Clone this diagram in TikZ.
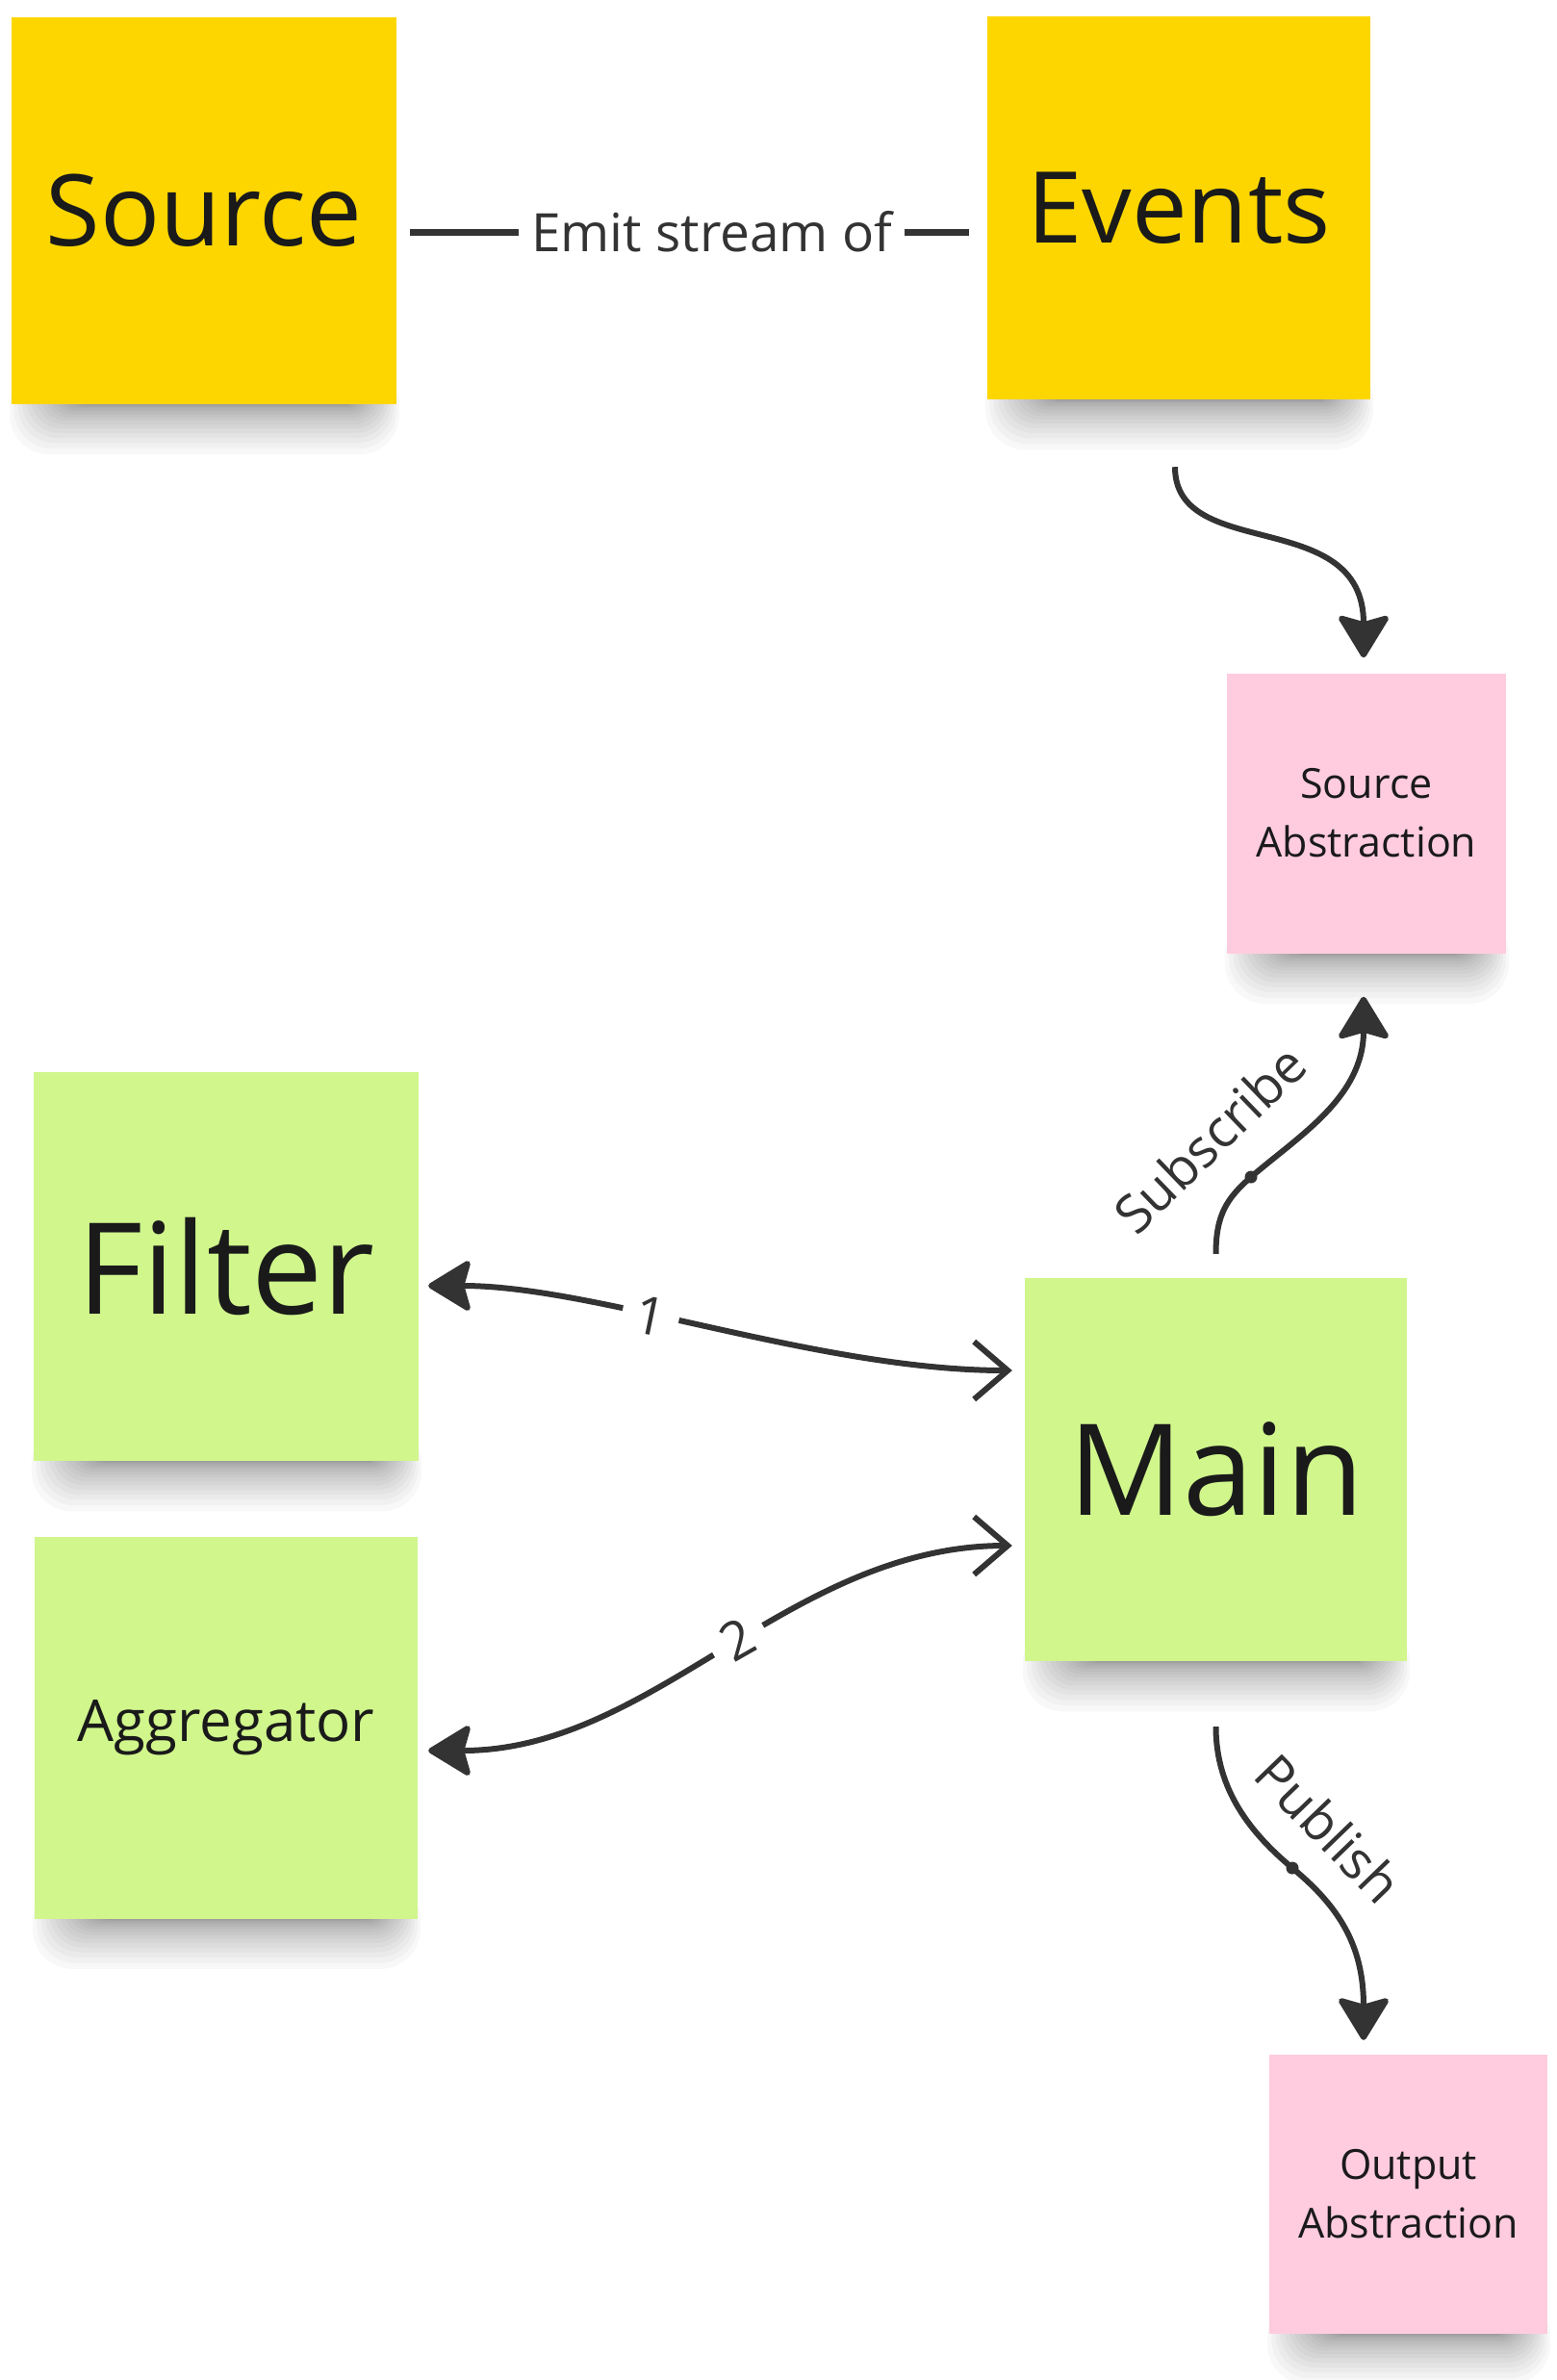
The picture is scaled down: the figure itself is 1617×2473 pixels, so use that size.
\documentclass[tikz,border=0pt]{standalone}
\usepackage{fontspec}
\setmainfont{Open Sans}
\usetikzlibrary{arrows.meta}
\pgfdeclarelayer{bg}
\pgfsetlayers{bg,main}
\definecolor{ynote}{HTML}{FDD600}
\definecolor{gnote}{HTML}{D0F68C}
\definecolor{pnote}{HTML}{FFCCDF}
\definecolor{linec}{HTML}{333333}
\definecolor{notetext}{HTML}{1A1A1A}
\newcommand\notesh[1]{%
  \foreach \k in {1,...,16}{%
    \pgfmathsetmacro\xa{70-4.5*\k}%
    \pgfmathsetmacro\xb{-45+3*\k}%
    \pgfmathsetmacro\yb{-(1+0.2*\k*\k)}%
    \pgfmathsetmacro\rc{10+2*\k}%
    \fill[black,opacity=0.026,rounded corners=\rc pt]
      ([xshift=\xa pt,yshift=40pt]#1.south west) rectangle ([xshift=\xb pt,yshift=\yb pt]#1.south east);
  }}
\begin{document}
\begin{tikzpicture}[x=1pt,y=-1pt,
  note/.style={inner sep=0pt, align=center, text=notetext},
  bignote/.style={note, minimum width=400pt, minimum height=400pt},
  smallnote/.style={note, fill=pnote, minimum width=290pt, minimum height=291pt, font=\fontsize{43}{61}\selectfont},
  conn/.style={draw=linec, line width=6pt},
  lbl/.style={text=linec, font=\fontsize{55}{66}\selectfont},
  fulltip/.style={-{Stealth[length=48pt,width=58pt,inset=8pt,round]}},
  bothtip/.style={{Stealth[length=48pt,width=58pt,inset=8pt,round]}-{Straight Barb[length=35pt,width=60pt]}},
  dotmark/.style={fill=linec}
]
\useasboundingbox (0,0) rectangle (1617,2473);

% notes
\node[bignote, fill=ynote, minimum height=402pt, font=\fontsize{103}{120}\selectfont] (src) at (212,219) {Source};
\node[bignote, fill=ynote, minimum width=398pt, minimum height=398pt, font=\fontsize{103}{120}\selectfont] (ev) at (1225,216) {Events};
\node[smallnote] (sa) at (1420,845) {Source\\Abstraction};
\node[bignote, fill=gnote, minimum height=404pt, font=\fontsize{132}{150}\selectfont] (filt) at (235,1316) {Filter};
\node[bignote, fill=gnote, minimum width=398pt, minimum height=397pt, font=\fontsize{60}{70}\selectfont] (agg) at (235,1795) {Aggregator};
\node[bignote, fill=gnote, minimum width=397pt, minimum height=398pt, font=\fontsize{132}{150}\selectfont] (mainn) at (1263.5,1527) {Main};
\node[smallnote, minimum width=289pt, minimum height=290pt] (oa) at (1463.5,2280) {Output\\Abstraction};

% connectors
\draw[conn, line width=7pt] ([xshift=14pt,yshift=-22pt]src.east) --
  node[lbl, pos=0.54, fill=white, inner xsep=13pt, inner ysep=4pt] (emit) {Emit stream of}
  ([xshift=-19pt,yshift=-25pt]ev.west);

\draw[conn, fulltip] ([xshift=-4pt,yshift=-70pt]ev.south) .. controls (1221,585) and (1417,525) .. ([xshift=-3pt,yshift=16pt]sa.north);

\draw[conn, fulltip] ([yshift=25pt]mainn.north) .. controls (1263.5,1262) and (1275,1245) .. (1300,1223) coordinate (sdot)
  .. controls (1350,1180) and (1417,1140) .. ([xshift=-3pt,yshift=-45pt]sa.south);
\fill[dotmark] (sdot) circle (6.5pt);
\node[lbl, rotate=44] (subl) at (1257,1183) {Subscribe};

\draw[conn, fulltip] ([yshift=-68pt]mainn.south) .. controls (1263.5,1860) and (1300,1905) .. (1343,1941) coordinate (pdot)
  .. controls (1390,1980) and (1417,2020) .. ([xshift=-46.5pt,yshift=15pt]oa.north);
\fill[dotmark] (pdot) circle (6.5pt);
\node[lbl, rotate=-46] (publ) at (1381,1900) {Publish};

\draw[conn, bothtip] ([xshift=10pt,yshift=-20pt]filt.east) .. controls (620,1336) and (850,1424) ..
  node[lbl, pos=0.4, sloped, fill=white, inner xsep=14pt] (l1) {1}
  ([xshift=-13pt,yshift=103pt]mainn.west);

\draw[conn, bothtip] ([xshift=11pt,yshift=-24pt]agg.east) .. controls (680,1819) and (820,1606) ..
  node[lbl, pos=0.53, sloped, fill=white, inner xsep=14pt] (l2) {2}
  ([xshift=-13pt,yshift=-79pt]mainn.west);

% background and shadows
\begin{pgfonlayer}{bg}
\fill[white] (0,0) rectangle (1617,2473);
\notesh{src}
\notesh{ev}
\notesh{sa}
\notesh{filt}
\notesh{agg}
\notesh{mainn}
\notesh{oa}
\end{pgfonlayer}
\end{tikzpicture}
\end{document}
